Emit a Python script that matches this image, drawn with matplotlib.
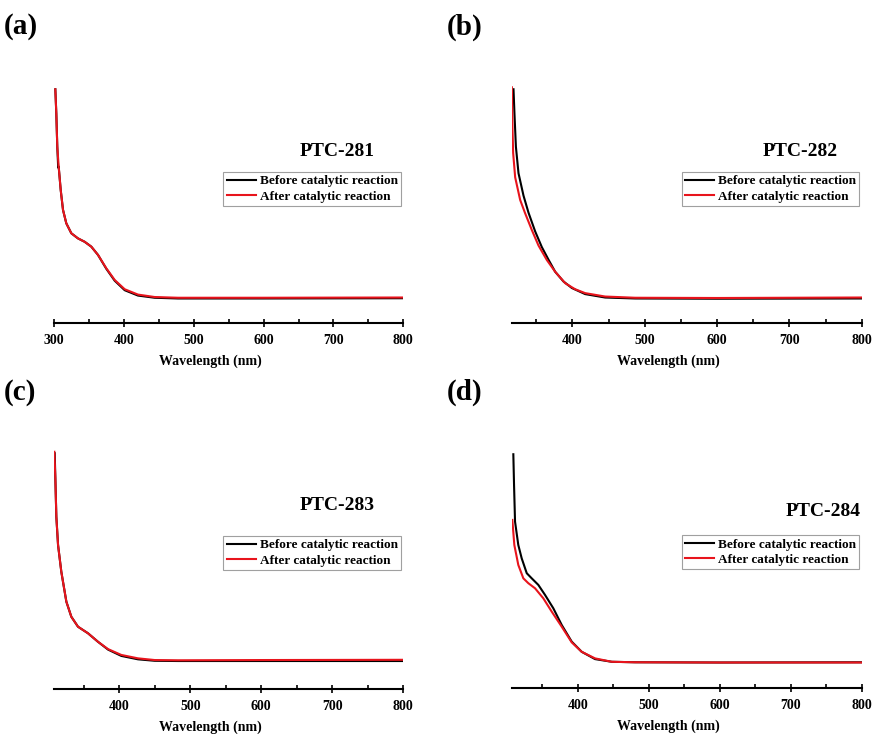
import numpy as np
import matplotlib
matplotlib.use("Agg")
import matplotlib.pyplot as plt
from matplotlib.ticker import MultipleLocator

plt.rcParams['font.family'] = ['Liberation Serif', 'DejaVu Serif']
plt.rcParams['font.weight'] = 'bold'

# UV-vis spectra (normalized absorbance)
wl_281_before = [301.9, 303.3, 304.7, 306.0, 306.7, 309.6, 312.9, 317.6, 324.8, 334.3, 343.9,
                 353.4, 363.0, 374.9, 386.9, 401.2, 420.2, 444.1, 477.5, 600, 800]
abs_281_before = [0.962, 0.863, 0.726, 0.64, 0.644, 0.548, 0.466, 0.411, 0.370, 0.349, 0.335,
                  0.315, 0.281, 0.224, 0.175, 0.136, 0.114, 0.105, 0.102, 0.102, 0.103]
wl_281_after = [301.9, 303.3, 304.7, 306.7, 309.6, 312.9, 317.6, 324.8, 334.3, 343.9,
                353.4, 363.0, 374.9, 386.9, 401.2, 420.2, 444.1, 477.5, 600, 800]
abs_281_after = [0.962, 0.863, 0.726, 0.644, 0.548, 0.466, 0.411, 0.370, 0.349, 0.335,
                 0.315, 0.281, 0.226, 0.178, 0.140, 0.118, 0.108, 0.105, 0.105, 0.106]

wl_282_before = [318.5, 319.8, 321.8, 325.4, 332.3, 339.2, 348.4, 357.7, 366.8, 376.1,
                 387.6, 399.2, 417.6, 445.2, 486.7, 600, 800]
abs_282_before = [0.962, 0.863, 0.726, 0.617, 0.525, 0.455, 0.378, 0.313, 0.262, 0.212,
                  0.172, 0.145, 0.120, 0.106, 0.102, 0.101, 0.102]
wl_282_after = [316.2, 317.1, 318.0, 320.8, 327.7, 334.6, 343.9, 353.0, 364.6, 376.1, 389.9,
                403.7, 417.6, 445.2, 486.7, 600, 800]
abs_282_after = [0.970, 0.80, 0.70, 0.60, 0.507, 0.452, 0.383, 0.320, 0.260, 0.212, 0.165,
                 0.140, 0.124, 0.110, 0.105, 0.104, 0.106]

wl_283_before = [309.0, 309.9, 311.3, 313.7, 318.3, 325.4, 332.4, 341.8, 355.9, 370.0,
                 384.1, 402.8, 426.3, 449.9, 482.7, 600, 800]
abs_283_before = [0.969, 0.866, 0.708, 0.592, 0.482, 0.359, 0.297, 0.256, 0.229, 0.194,
                  0.162, 0.136, 0.122, 0.116, 0.115, 0.115, 0.115]
wl_283_after = [308.5, 309.9, 311.3, 313.7, 318.3, 325.4, 332.4, 341.8, 355.9, 370.0,
                384.1, 402.8, 426.3, 449.9, 482.7, 600, 800]
abs_283_after = [0.975, 0.866, 0.708, 0.592, 0.482, 0.359, 0.297, 0.256, 0.229, 0.194,
                 0.164, 0.140, 0.126, 0.119, 0.118, 0.119, 0.120]

wl_284_before = [309.3, 310.3, 311.7, 316.3, 321.1, 328.2, 335.2, 344.5, 353.9, 365.6,
                 377.5, 391.5, 405.6, 424.4, 447.9, 480.7, 600, 800]
abs_284_before = [0.962, 0.836, 0.685, 0.589, 0.534, 0.473, 0.452, 0.425, 0.384, 0.329,
                  0.260, 0.192, 0.150, 0.120, 0.109, 0.107, 0.106, 0.107]
wl_284_after = [307.9, 310.7, 316.3, 323.4, 330.4, 339.9, 351.5, 363.4, 377.5, 391.5,
                405.6, 424.4, 447.9, 480.7, 600, 800]
abs_284_after = [0.692, 0.589, 0.507, 0.452, 0.432, 0.411, 0.370, 0.315, 0.253, 0.189,
                 0.150, 0.123, 0.109, 0.107, 0.106, 0.106]

samples = ['PTC-281', 'PTC-282', 'PTC-283', 'PTC-284']
panel_tags = ['(a)', '(b)', '(c)', '(d)']
x_min = [300, 316, 308, 307]
legend_labels = ['Before catalytic reaction', 'After catalytic reaction']

curves = [
    (wl_281_before, abs_281_before, wl_281_after, abs_281_after),
    (wl_282_before, abs_282_before, wl_282_after, abs_282_after),
    (wl_283_before, abs_283_before, wl_283_after, abs_283_after),
    (wl_284_before, abs_284_before, wl_284_after, abs_284_after),
]

W, H = 873, 734
fig = plt.figure(figsize=(W / 100, H / 100), dpi=100)

# axes boxes in pixels: left, right, top, bottom
boxes = [(54, 403.3, 80, 323.3), (511.7, 861.7, 80, 323.3),
         (54, 403.3, 445.7, 689), (511.7, 861.7, 445, 688.3)]
tag_pos = [(4, 27), (447, 27), (4, 392), (447, 392)]
title_pos = [(337, 152), (800, 152), (337, 505), (823, 511)]
legend_pos = [(401, 171.7), (859.3, 171.7), (401, 535.7), (859.3, 535)]

for i in range(4):
    l, r, t, b = boxes[i]
    ax = fig.add_axes([l / W, 1 - b / H, (r - l) / W, (b - t) / H])
    wb, ab, wa, aa = curves[i]
    ax.plot(wb, ab, color='black', lw=1.5, label=legend_labels[0])
    ax.plot(wa, aa, color='#e8141c', lw=1.5, label=legend_labels[1])
    ax.set_xlim(x_min[i], 800)
    ax.set_ylim(0, 1)

    for s in ['top', 'right', 'left']:
        ax.spines[s].set_visible(False)
    ax.spines['bottom'].set_linewidth(1.5)
    ax.set_yticks([])
    ax.xaxis.set_major_locator(MultipleLocator(100))
    ax.xaxis.set_minor_locator(MultipleLocator(50))
    ax.tick_params(axis='x', which='major', direction='inout', length=6, width=1.2,
                   labelsize=10, pad=5)
    ax.tick_params(axis='x', which='minor', direction='in', length=3, width=1.2)
    for lab in ax.get_xticklabels():
        lab.set_fontweight('bold')

    ax.set_xlabel('Wavelength (nm)', fontsize=10, fontweight='bold', va='center')
    ax.xaxis.set_label_coords(0.449, -0.156)

    leg = ax.legend(loc='upper right', bbox_to_anchor=(legend_pos[i][0] / W, 1 - legend_pos[i][1] / H),
                    bbox_transform=fig.transFigure, fontsize=9.5, frameon=True, fancybox=False,
                    handlelength=2.2, handletextpad=0.3, borderpad=0.25, labelspacing=0.25,
                    borderaxespad=0)
    leg.get_frame().set_edgecolor('#888888')
    leg.get_frame().set_linewidth(0.8)
    for txt in leg.get_texts():
        txt.set_fontweight('bold')

    fig.text(title_pos[i][0] / W, 1 - title_pos[i][1] / H, samples[i], ha='center', va='center',
             fontsize=14, fontweight='bold')
    fig.text(tag_pos[i][0] / W, 1 - tag_pos[i][1] / H, panel_tags[i], ha='left', va='center',
             fontsize=21, fontweight='bold')

fig.savefig('out.png', dpi=100)
